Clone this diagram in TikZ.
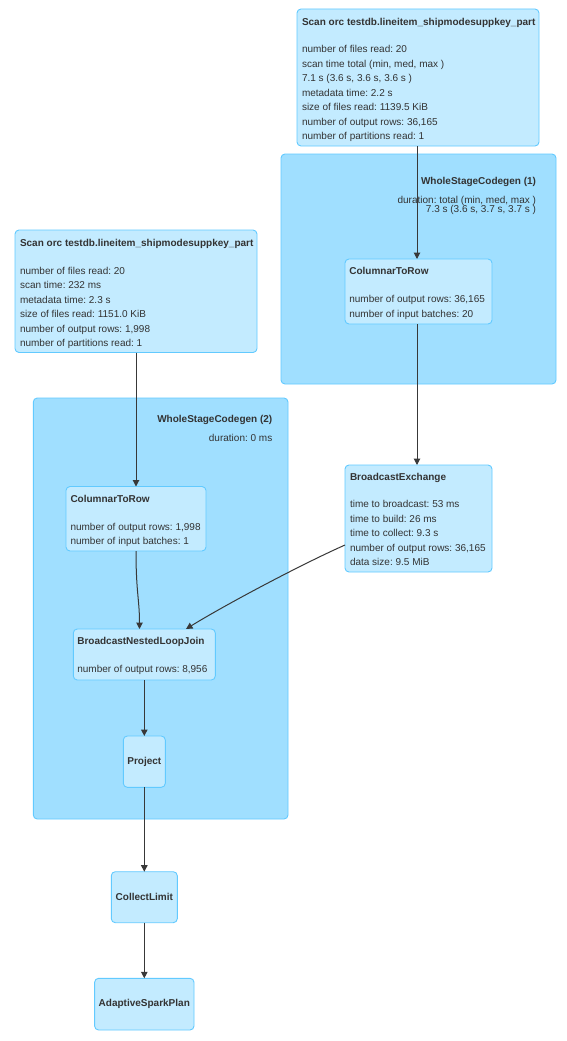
\documentclass[tikz,border=0pt]{standalone}
\usepackage{fontspec}
\setmainfont{Liberation Sans}
\usetikzlibrary{arrows.meta}
\frenchspacing
\definecolor{clfill}{HTML}{A0DFFF}
\definecolor{ndfill}{HTML}{C3EBFF}
\definecolor{bdcol}{HTML}{62CAFF}
\definecolor{txtcol}{HTML}{333333}
\definecolor{edgecol}{HTML}{383838}
\tikzset{
  clusterbox/.style={draw=bdcol, fill=clfill, rounded corners=4pt, line width=0.9pt, inner sep=0pt, outer sep=0pt},
  opbox/.style={draw=bdcol, fill=ndfill, rounded corners=4pt, line width=0.9pt, inner sep=0pt, outer sep=0pt},
  txt/.style={font=\fontsize{10}{12}\selectfont, text=txtcol, inner sep=0pt, outer sep=0pt},
  ttl/.style={txt, font=\fontsize{10}{12}\selectfont\bfseries},
  edge/.style={draw=edgecol, line width=1pt, -{Triangle[length=6.5pt, width=6.5pt]}},
}
\newcommand\oplines[4]{%
  \foreach \lineText [count=\i] in {#4} {%
    \node[txt, anchor=base west] (#1-\i) at (#2, {#3+14.5*(\i-1)}) {\frenchspacing\lineText};}}
\begin{document}
\begin{tikzpicture}[x=1pt, y=-1pt]
\useasboundingbox (0,0) rectangle (566,1041);
\fill[white] (0,0) rectangle (566,1041);

% clusters
\node[clusterbox, minimum width=275pt, minimum height=230pt] (wscg1) at (418.5,269) {};
\node[clusterbox, minimum width=254.7pt, minimum height=421pt] (wscg2) at (160.65,608.5) {};
\node[ttl, anchor=base east] (wscg1-t) at (536,184.5) {WholeStageCodegen (1)};
\node[txt, anchor=base east] (wscg1-1) at (536,203.5) {duration: total (min, med, max )};
\node[txt, anchor=base east] (wscg1-2) at (536,212.8) {7.3 s (3.6 s, 3.7 s, 3.7 s )};
\node[ttl, anchor=base east] (wscg2-t) at (272.3,422.8) {WholeStageCodegen (2)};
\node[txt, anchor=base east] (wscg2-1) at (272.3,441.8) {duration: 0 ms};

% operator boxes
\node[opbox, minimum width=242pt, minimum height=137pt] (scan1) at (418,77.5) {};
\node[opbox, minimum width=147pt, minimum height=65pt] (ctr1) at (418.5,291.5) {};
\node[opbox, minimum width=242pt, minimum height=122.5pt] (scan2) at (136,291.25) {};
\node[opbox, minimum width=140pt, minimum height=64.5pt] (ctr2) at (136,518.75) {};
\node[opbox, minimum width=147pt, minimum height=107pt] (be) at (418.5,518.5) {};
\node[opbox, minimum width=142pt, minimum height=51pt] (bnlj) at (144.3,654.5) {};
\node[opbox, minimum width=42pt, minimum height=51.3pt] (project) at (144.3,761.65) {};
\node[opbox, minimum width=66pt, minimum height=51pt] (collect) at (144.3,897.2) {};
\node[opbox, minimum width=99.4pt, minimum height=51.7pt] (asp) at (144.3,1004.15) {};

% texts
\node[ttl, anchor=base west] (scan1-t) at (302,25.2) {Scan orc testdb.lineitem\_shipmodesuppkey\_part};
\oplines{scan1}{302}{52.5}{{number of files read: 20},{scan time total (min, med, max )},{7.1 s (3.6 s, 3.6 s, 3.6 s )},{metadata time: 2.2 s},{size of files read: 1139.5 KiB},{number of output rows: 36,165},{number of partitions read: 1}}

\node[ttl, anchor=base west] (ctr1-t) at (349.3,274.2) {ColumnarToRow};
\oplines{ctr1}{349.3}{302.5}{{number of output rows: 36,165},{number of input batches: 20}}

\node[ttl, anchor=base west] (scan2-t) at (20,246.8) {Scan orc testdb.lineitem\_shipmodesuppkey\_part};
\oplines{scan2}{20}{274.2}{{number of files read: 20},{scan time: 232 ms},{metadata time: 2.3 s},{size of files read: 1151.0 KiB},{number of output rows: 1,998},{number of partitions read: 1}}

\node[ttl, anchor=base west] (ctr2-t) at (70.5,502.2) {ColumnarToRow};
\oplines{ctr2}{70.5}{530.2}{{number of output rows: 1,998},{number of input batches: 1}}

\node[ttl, anchor=base west] (be-t) at (350,480.8) {BroadcastExchange};
\oplines{be}{350}{507.8}{{time to broadcast: 53 ms},{time to build: 26 ms},{time to collect: 9.3 s},{number of output rows: 36,165},{data size: 9.5 MiB}}

\node[ttl, anchor=base west] (bnlj-t) at (77.3,644.5) {BroadcastNestedLoopJoin};
\oplines{bnlj}{77.3}{672.5}{{number of output rows: 8,956}}

\node[ttl] (project-t) at (project.center) {Project};
\node[ttl] (collect-t) at (collect.center) {CollectLimit};
\node[ttl] (asp-t) at (asp.center) {AdaptiveSparkPlan};

% edges
\draw[edge] (scan1.south -| 417,0) -- (ctr1.north -| 417,0);
\draw[edge] (ctr1.south -| 417,0) -- (be.north -| 417,0);
\draw[edge] (scan2.south) -- (ctr2.north);
\draw[edge] (ctr2.south) .. controls (136,592) and (139.5,600) .. (bnlj.north -| 139.5,0);
\draw[edge] (be.west |- 0,545) .. controls (300,565) and (225,605) .. (bnlj.north -| 186,0);
\draw[edge] (bnlj.south) -- (project.north);
\draw[edge] (project.south) -- (collect.north);
\draw[edge] (collect.south) -- (asp.north);
\end{tikzpicture}
\end{document}
